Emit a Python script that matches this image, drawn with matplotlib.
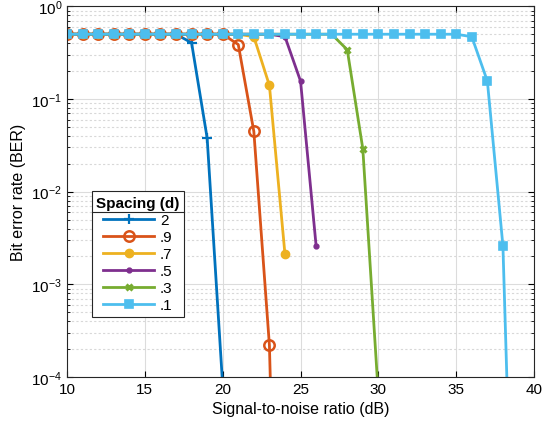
import numpy as np
import matplotlib
matplotlib.use('Agg')
import matplotlib.pyplot as plt
from matplotlib.lines import Line2D

plt.rcParams['font.family'] = ['Liberation Sans', 'DejaVu Sans']
plt.rcParams['mathtext.fontset'] = 'custom'
plt.rcParams['mathtext.rm'] = 'Liberation Sans'

# SNR grid (dB) and BER per spacing
snr = list(range(10, 41))
labels = ['2', '.9', '.7', '.5', '.3', '.1']

ber_2 = [0.5] * 8 + [0.404, 0.038, 8e-5]
ber_09 = [0.5] * 11 + [0.387, 0.0446, 2.2e-4, 1e-10]
ber_07 = [0.5] * 12 + [0.47, 0.14, 0.0021]
ber_05 = [0.5] * 14 + [0.47, 0.156, 0.0026]
ber_03 = [0.5] * 18 + [0.34, 0.029, 6.3e-5]
ber_01 = [0.5] * 26 + [0.47, 0.156, 0.0026, 6e-9]

series = [ber_2, ber_09, ber_07, ber_05, ber_03, ber_01]
colors = ['#0072BD', '#D95319', '#EDB120', '#7E2F8E', '#77AC30', '#4DBEEE']
styles = [
    dict(marker='+', markersize=7, mew=1.6),
    dict(marker='o', markersize=7.5, mew=1.8, mfc='none'),
    dict(marker='o', markersize=6),
    dict(marker='.', markersize=7),
    dict(marker='x', markersize=5, mew=2.2),
    dict(marker='s', markersize=6, mew=1.2),
]

fig = plt.figure(figsize=(5.54, 4.31), dpi=100)
ax = fig.add_axes([0.121, 0.123, 0.843, 0.860])

for y, c, st, lab in zip(series, colors, styles, labels):
    ax.semilogy(snr[:len(y)], y, color=c, lw=2, label=lab, **st)

ax.set_xlim(10, 40)
ax.set_ylim(1e-4, 1)
ax.set_xticks(range(10, 41, 5))
ax.grid(True, which='major', color='#dcdcdc', lw=0.8)
ax.grid(True, which='minor', axis='y', color='#d8d8d8', lw=0.8, ls=(0, (2, 2)))
ax.set_axisbelow(True)
ax.tick_params(which='both', direction='in', top=True, right=True, labelsize=11)
ax.tick_params(which='major', length=4)
ax.tick_params(which='minor', length=2.5)
for s in ax.spines.values():
    s.set_color('#262626')
    s.set_linewidth(0.8)

ax.set_xlabel('Signal-to-noise ratio (dB)', fontsize=11.5)
ax.set_ylabel('Bit error rate (BER)', fontsize=11.5)

leg = ax.legend(title='Spacing (d)', loc='lower left', bbox_to_anchor=(0.053, 0.162),
                fancybox=False, edgecolor='#262626', framealpha=1, fontsize=11,
                handlelength=3.3, handletextpad=0.4, labelspacing=0.2,
                borderpad=0.3, borderaxespad=0)
leg.get_title().set_fontweight('bold')
leg.get_title().set_fontsize(11)
leg.get_frame().set_linewidth(0.8)

# separator line under the legend title
fig.canvas.draw()
r = fig.canvas.get_renderer()
fb = leg.get_frame().get_window_extent(r)
tb = leg.get_title().get_window_extent(r)
ysep = tb.y0 - 2
inv = fig.transFigure.inverted()
p0 = inv.transform((fb.x0, ysep))
p1 = inv.transform((fb.x1, ysep))
fig.add_artist(Line2D([p0[0], p1[0]], [p0[1], p1[1]], color='#262626', lw=0.8))

fig.savefig('out.png', dpi=100)
